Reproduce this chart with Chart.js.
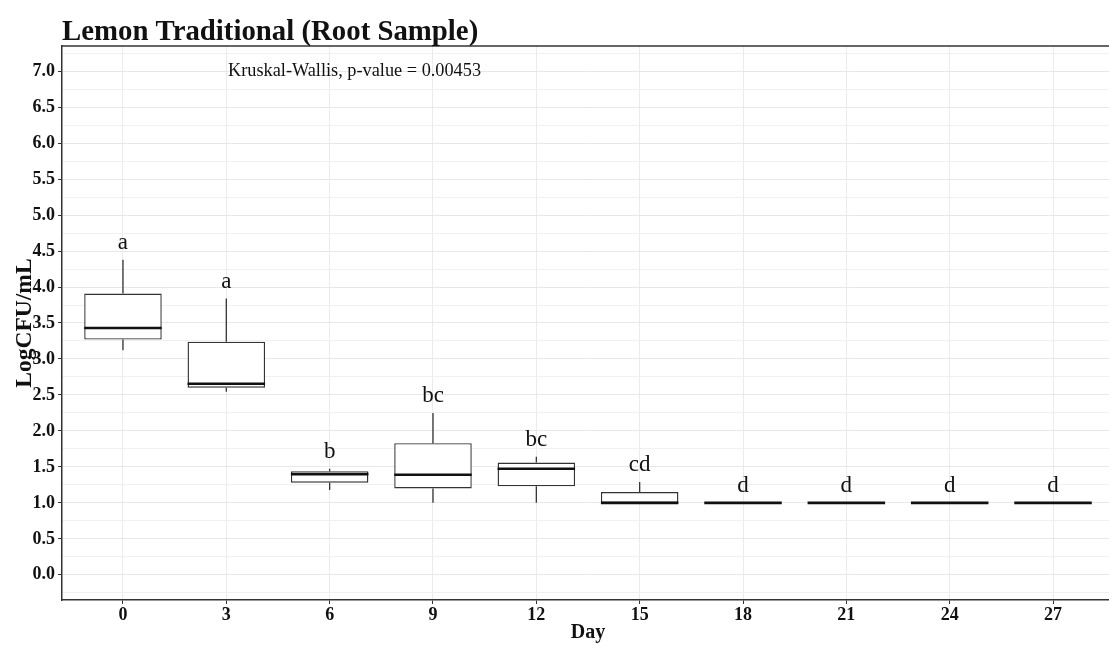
<!DOCTYPE html>
<html>
<head>
<meta charset="utf-8">
<script src="https://cdn.jsdelivr.net/npm/chart.js@4.4.1/dist/chart.umd.min.js"></script>
<style>
  html, body { margin: 0; padding: 0; background: #fff; overflow: hidden; }
  canvas { display: block; }
</style>
</head>
<body>
<canvas id="boxChart" width="1116" height="645"></canvas>
<script>
// Dagen van de meting (x-as)
const days = [0, 3, 6, 9, 12, 15, 18, 21, 24, 27];

// Boxplot-statistieken per dag (LogCFU/mL)
const mins    = [3.12, 2.545, 1.18, 1.00, 1.00, 1.00, 1.00, 1.00, 1.00, 1.00];
const q1s     = [3.27, 2.60,  1.28, 1.20, 1.23, 1.00, 1.00, 1.00, 1.00, 1.00];
const medians = [3.43, 2.655, 1.40, 1.39, 1.475, 1.00, 1.00, 1.00, 1.00, 1.00];
const q3s     = [3.91, 3.24,  1.44, 1.83, 1.56, 1.15, 1.00, 1.00, 1.00, 1.00];
const maxs    = [4.38, 3.84,  1.475, 2.25, 1.64, 1.29, 1.00, 1.00, 1.00, 1.00];

// Letters van de post-hoc groepering
const groupLetters = ['a', 'a', 'b', 'bc', 'bc', 'cd', 'd', 'd', 'd', 'd'];

// Y-as ticks en labels
const yTicks = [0, 0.5, 1, 1.5, 2, 2.5, 3, 3.5, 4, 4.5, 5, 5.5, 6, 6.5, 7];
const yTickLabels = ['0.0', '0.5', '1.0', '1.5', '2.0', '2.5', '3.0', '3.5',
                     '4.0', '4.5', '5.0', '5.5', '6.0', '6.5', '7.0'];

const titel = 'Lemon Traditional (Root Sample)';
const testLabel = 'Kruskal-Wallis, p-value = 0.00453';

const SERIF = '"Liberation Serif", "Times New Roman", serif';
const isMajor = v => yTicks.some(t => Math.abs(t - v) < 1e-6);

// extra lijnen tussen de hoofdticks
const yMinor = [-0.25].concat(yTicks.map(v => v + 0.25));
const yAll = yTicks.concat(yMinor).sort((a, b) => a - b);

Chart.defaults.font.family = SERIF;
Chart.defaults.color = '#111';

// Whiskers, medianen, letters en teksten tekenen
const boxPlotExtras = {
    id: 'boxPlotExtras',
    beforeDatasetsDraw(chart) {
        const { ctx, scales: { x, y } } = chart;
        ctx.save();
        ctx.strokeStyle = '#333';
        ctx.lineWidth = 1.3;
        days.forEach((d, i) => {
            const px = x.getPixelForValue(i);
            ctx.beginPath();
            ctx.moveTo(px, y.getPixelForValue(q3s[i]));
            ctx.lineTo(px, y.getPixelForValue(maxs[i]));
            ctx.moveTo(px, y.getPixelForValue(q1s[i]));
            ctx.lineTo(px, y.getPixelForValue(mins[i]));
            ctx.stroke();
        });
        ctx.restore();
    },
    afterDatasetsDraw(chart) {
        const { ctx, scales: { x, y } } = chart;
        const meta = chart.getDatasetMeta(0);
        ctx.save();
        ctx.strokeStyle = '#111';
        ctx.lineWidth = 2.6;
        days.forEach((d, i) => {
            const bar = meta.data[i];
            const half = bar.width / 2;
            const py = y.getPixelForValue(medians[i]);
            ctx.beginPath();
            ctx.moveTo(bar.x - half, py);
            ctx.lineTo(bar.x + half, py);
            ctx.stroke();
        });

        // groepsletters boven de bovenste whisker
        ctx.fillStyle = '#111';
        ctx.font = '23px ' + SERIF;
        ctx.textAlign = 'center';
        ctx.textBaseline = 'alphabetic';
        days.forEach((d, i) => {
            ctx.fillText(groupLetters[i], x.getPixelForValue(i), y.getPixelForValue(maxs[i] + 0.15));
        });
        ctx.restore();
    },
    afterDraw(chart) {
        const { ctx, chartArea: area, scales: { y } } = chart;
        ctx.save();
        // bovenrand van het paneel
        ctx.strokeStyle = '#333';
        ctx.lineWidth = 1.5;
        ctx.beginPath();
        ctx.moveTo(area.left, area.top);
        ctx.lineTo(area.right, area.top);
        ctx.stroke();

        ctx.fillStyle = '#111';
        ctx.font = 'bold 28.8px ' + SERIF;
        ctx.textAlign = 'left';
        ctx.textBaseline = 'alphabetic';
        ctx.fillText(titel, area.left, 40);

        ctx.font = '18.3px ' + SERIF;
        ctx.textBaseline = 'middle';
        ctx.fillText(testLabel, 228, y.getPixelForValue(7));

        // astitels
        ctx.font = 'bold 20px ' + SERIF;
        ctx.textAlign = 'center';
        ctx.textBaseline = 'alphabetic';
        ctx.fillText('Day', (area.left + area.right) / 2, 638);

        ctx.font = 'bold 23.5px ' + SERIF;
        ctx.translate(31, (area.top + area.bottom) / 2);
        ctx.rotate(-Math.PI / 2);
        ctx.fillText('LogCFU/mL', 0, 0);
        ctx.restore();
    }
};

const ctx = document.getElementById('boxChart');

new Chart(ctx, {
    type: 'bar',
    data: {
        datasets: [{
            data: days.map((d, i) => ({ x: i, y: [q1s[i], q3s[i]] })),
            backgroundColor: '#ffffff',
            borderColor: '#333',
            borderWidth: 1.4,
            borderSkipped: false,
            barPercentage: 0.75,
            categoryPercentage: 1.0
        }]
    },
    options: {
        responsive: false,
        animation: false,
        layout: { padding: { top: 46, right: 2, left: 0, bottom: 0 } },
        plugins: {
            legend: { display: false },
            title: { display: false },
            tooltip: { enabled: false }
        },
        scales: {
            x: {
                type: 'linear',
                offset: false,
                min: -0.59,
                max: 9.59,
                afterBuildTicks: s => { s.ticks = days.map((d, i) => ({ value: i })); },
                afterFit: s => { s.height = 45; },
                ticks: {
                    callback: v => String(days[v]),
                    font: { weight: 'bold', size: 18 },
                    color: '#111',
                    padding: 1,
                    maxRotation: 0,
                    autoSkip: false
                },
                grid: { offset: false, color: '#ebebeb', lineWidth: 1, tickColor: '#333', tickLength: 4 },
                border: { display: true, color: '#333', width: 1.5 }
            },
            y: {
                min: -0.35,
                max: 7.35,
                afterBuildTicks: s => { s.ticks = yAll.map(v => ({ value: v })); },
                afterFit: s => { s.width = 62; },
                ticks: {
                    callback: v => {
                        const k = yTicks.findIndex(t => Math.abs(t - v) < 1e-6);
                        return k >= 0 ? yTickLabels[k] : '';
                    },
                    font: { weight: 'bold', size: 18 },
                    color: '#111',
                    padding: 3,
                    autoSkip: false
                },
                grid: {
                    color: c => isMajor(c.tick.value) ? '#e8e8e8' : '#f0f0f0',
                    tickColor: c => isMajor(c.tick.value) ? '#333' : 'rgba(0,0,0,0)',
                    lineWidth: 1,
                    tickLength: 4
                },
                border: { display: true, color: '#333', width: 1.5 }
            }
        }
    },
    plugins: [boxPlotExtras]
});
</script>
</body>
</html>
